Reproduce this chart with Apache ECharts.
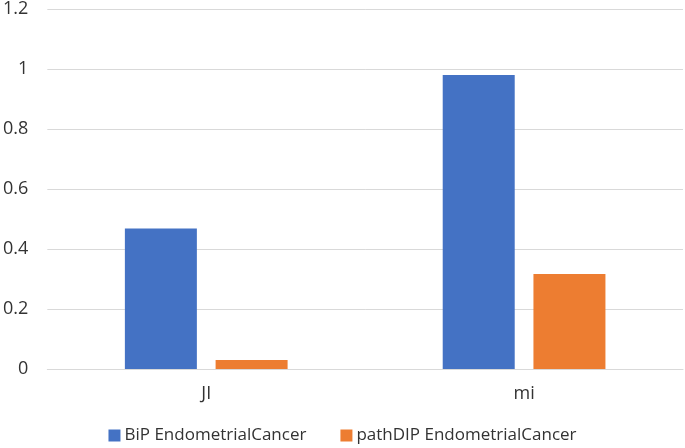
<!DOCTYPE html>
<html><head><meta charset="utf-8">
<script src="https://cdn.jsdelivr.net/npm/echarts@6/dist/echarts.min.js"></script>
<style>html,body{margin:0;padding:0;background:#fff}#c{width:685px;height:448px}</style>
</head><body><div id="c"></div>
<script>
const categories = ['JI', 'mi'];
const bipValues = [0.468, 0.98];
const pathdipValues = [0.03, 0.317];
const seriesNames = ['BiP EndometrialCancer', 'pathDIP EndometrialCancer'];

const chart = echarts.init(document.getElementById('c'), null, {renderer: 'canvas'});
const font = 'Open Sans';
chart.setOption({
  animation: false,
  backgroundColor: '#fff',
  grid: {left: 47, right: 2, top: 9, bottom: 79, containLabel: false},
  legend: {
    top: 427, left: 'center', itemWidth: 12, itemHeight: 12, itemGap: 34,
    icon: 'rect', padding: 0,
    textStyle: {fontFamily: font, fontSize: 17, color: '#333', padding: [0, 0, 0, -1]},
    data: seriesNames
  },
  xAxis: {
    type: 'category', data: categories,
    axisLine: {show: true, lineStyle: {color: '#d9d9d9', width: 1}},
    axisTick: {show: false},
    axisLabel: {fontFamily: font, fontSize: 18, color: '#333', margin: 16}
  },
  yAxis: {
    type: 'value', min: 0, max: 1.2, interval: 0.2,
    axisLine: {show: false}, axisTick: {show: false},
    splitLine: {lineStyle: {color: '#d9d9d9', width: 1}},
    axisLabel: {fontFamily: font, fontSize: 18, color: '#333', margin: 19,
      formatter: v => String(Math.round(v * 10) / 10)}
  },
  series: [
    {name: seriesNames[0], type: 'bar', data: bipValues, barWidth: 72, barGap: '26%',
     itemStyle: {color: '#4472c4'}},
    {name: seriesNames[1], type: 'bar', data: pathdipValues, barWidth: 72,
     itemStyle: {color: '#ed7d31'}}
  ]
});
</script></body></html>
